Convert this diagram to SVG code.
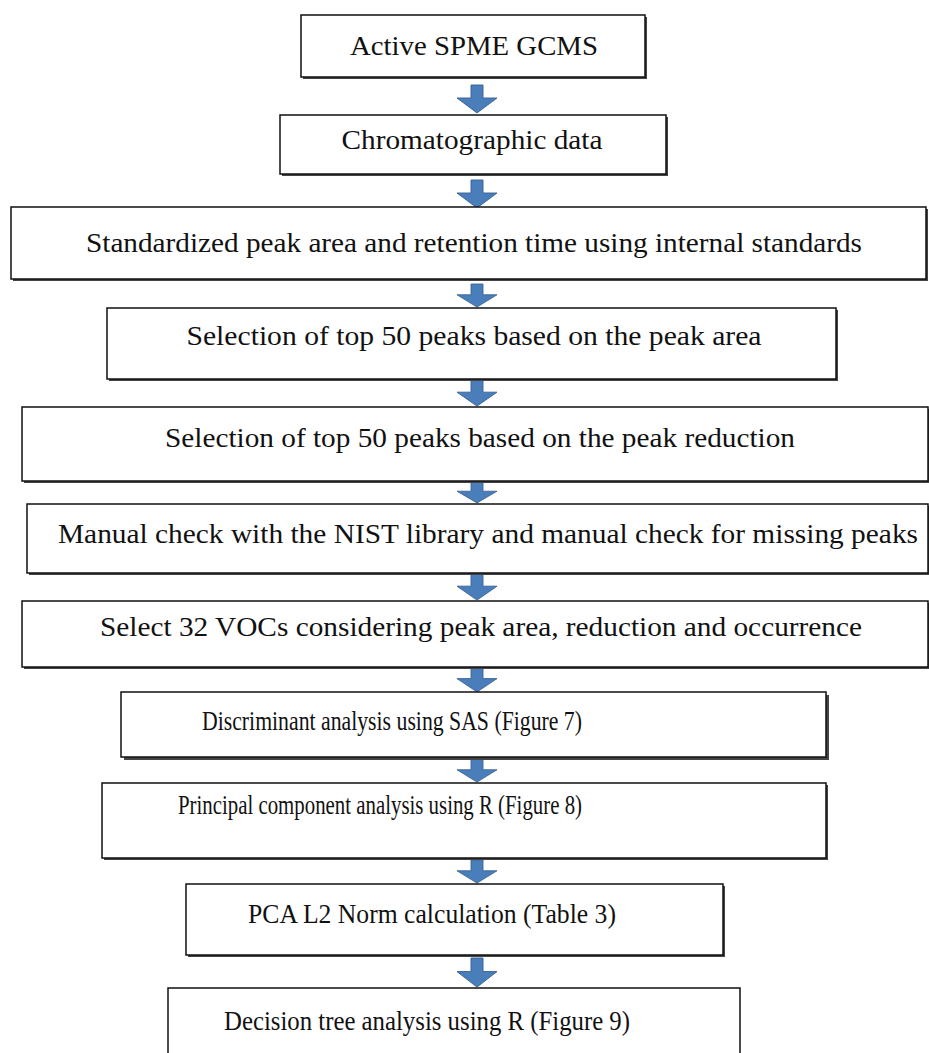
<svg xmlns="http://www.w3.org/2000/svg" width="929" height="1053" viewBox="0 0 929 1053">
<style>
.bx{fill:#fff;stroke:#111;stroke-width:1.5}
.sh{fill:#444}
.t{font-family:"Liberation Serif","Times New Roman",serif;font-size:27px;fill:#111;text-anchor:middle}
.ar{fill:#4a7ebb;stroke:#3a6597;stroke-width:1}
</style>
<defs>
<path id="arw" d="M-6,0 H6 V14 H20 L0,30 L-20,14 H-6 Z"/>
</defs>
<rect width="929" height="1053" fill="#fff"/>
<g id="connectors">
<use href="#arw" class="ar" transform="translate(477,85) scale(1,0.93)"/>
<use href="#arw" class="ar" transform="translate(477,180) scale(1,0.93)"/>
<use href="#arw" class="ar" transform="translate(477,284) scale(1,0.77)"/>
<use href="#arw" class="ar" transform="translate(477,380) scale(1,0.87)"/>
<use href="#arw" class="ar" transform="translate(477,481) scale(1,0.73)"/>
<use href="#arw" class="ar" transform="translate(477,574) scale(1,0.87)"/>
<use href="#arw" class="ar" transform="translate(477,667) scale(1,0.83)"/>
<use href="#arw" class="ar" transform="translate(477,759) scale(1,0.77)"/>
<use href="#arw" class="ar" transform="translate(477,860) scale(1,0.77)"/>
<use href="#arw" class="ar" transform="translate(477,958) scale(1,0.97)"/>
</g>
<g id="n1"><rect class="sh" x="303" y="17" width="344" height="62"/><rect class="bx" x="301" y="15" width="344" height="62"/><text class="t" x="474" y="55" textLength="248" lengthAdjust="spacingAndGlyphs">Active SPME GCMS</text></g>
<g id="n2"><rect class="sh" x="282" y="117" width="386" height="59"/><rect class="bx" x="280" y="115" width="386" height="59"/><text class="t" x="472" y="149" textLength="261" lengthAdjust="spacingAndGlyphs">Chromatographic data</text></g>
<g id="n3"><rect class="sh" x="13" y="209" width="915" height="72"/><rect class="bx" x="11" y="207" width="915" height="72"/><text class="t" x="474" y="252" textLength="776" lengthAdjust="spacingAndGlyphs">Standardized peak area and retention time using internal standards</text></g>
<g id="n4"><rect class="sh" x="109" y="310" width="729" height="71"/><rect class="bx" x="107" y="308" width="729" height="71"/><text class="t" x="474" y="345" textLength="575" lengthAdjust="spacingAndGlyphs">Selection of top 50 peaks based on the peak area</text></g>
<g id="n5"><rect class="sh" x="24" y="409" width="906" height="74"/><rect class="bx" x="22" y="407" width="906" height="74"/><text class="t" x="480" y="447" textLength="630" lengthAdjust="spacingAndGlyphs">Selection of top 50 peaks based on the peak reduction</text></g>
<g id="n6"><rect class="sh" x="29" y="506" width="901" height="69"/><rect class="bx" x="27" y="504" width="901" height="69"/><text class="t" x="488" y="543" textLength="860" lengthAdjust="spacingAndGlyphs">Manual check with the NIST library and manual check for missing peaks</text></g>
<g id="n7"><rect class="sh" x="24" y="603" width="906" height="66"/><rect class="bx" x="22" y="601" width="906" height="66"/><text class="t" x="481" y="636" textLength="762" lengthAdjust="spacingAndGlyphs">Select 32 VOCs considering peak area, reduction and occurrence</text></g>
<g id="n8"><rect class="sh" x="124" y="695" width="705" height="65"/><rect class="bx" x="121" y="692" width="705" height="65"/><text class="t" x="392" y="730" textLength="380" lengthAdjust="spacingAndGlyphs">Discriminant analysis using SAS (Figure 7)</text></g>
<g id="n9"><rect class="sh" x="104" y="785" width="724" height="75"/><rect class="bx" x="102" y="783" width="724" height="75"/><text class="t" x="380" y="814" textLength="404" lengthAdjust="spacingAndGlyphs">Principal component analysis using R (Figure 8)</text></g>
<g id="n10"><rect class="sh" x="188" y="886" width="537" height="71"/><rect class="bx" x="186" y="884" width="537" height="71"/><text class="t" x="432" y="923" textLength="368" lengthAdjust="spacingAndGlyphs">PCA L2 Norm calculation (Table 3)</text></g>
<g id="n11"><rect class="bx" x="168" y="988" width="572" height="80"/><text class="t" x="427" y="1030" textLength="406" lengthAdjust="spacingAndGlyphs">Decision tree analysis using R (Figure 9)</text></g>
</svg>
